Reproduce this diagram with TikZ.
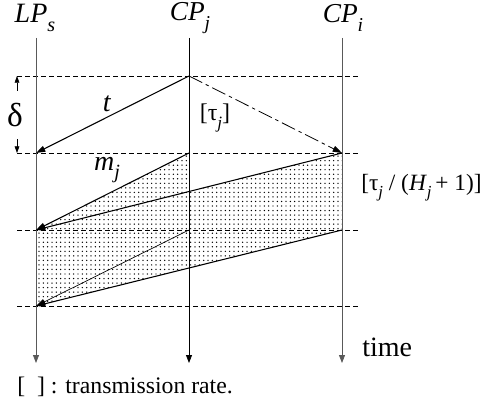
\documentclass[tikz,border=0pt]{standalone}
\usepackage{fontspec}
\setmainfont{Liberation Serif}
\usetikzlibrary{arrows.meta,patterns}
\pgfdeclarepatternformonly{refdots}{\pgfqpoint{-1pt}{-1pt}}{\pgfqpoint{1pt}{1pt}}{\pgfqpoint{3.25pt}{3.4pt}}{%
  \pgfpathcircle{\pgfqpoint{0pt}{0pt}}{0.55pt}\pgfusepath{fill}}
\newcommand{\sbs}[1]{\raisebox{-0.3em}{\scalebox{0.72}{\textit{#1}}}}
\begin{document}
\begin{tikzpicture}[x=0.75pt,y=-0.75pt,
  lbl/.style={font=\fontsize{20}{22}\selectfont, inner sep=0pt},
  tl/.style={line width=0.6pt,-{Triangle[length=6pt,width=4.5pt]}},
  hdash/.style={line width=0.5pt,dash pattern=on 3.5pt off 2.5pt},
  msg/.style={line width=0.8pt,-{Triangle[length=7pt,width=4.5pt]}},
  thinmsg/.style={line width=0.5pt,-{Triangle[length=7pt,width=4.5pt]}}]
\useasboundingbox (0,0) rectangle (484,410);
% coordinates
\foreach \n/\x in {L/36,J/189,I/342}{
  \coordinate (\n0) at (\x,38);
  \coordinate (\n1) at (\x,76);
  \coordinate (\n2) at (\x,153);
  \coordinate (\n3) at (\x,230);
  \coordinate (\n4) at (\x,306);
  \coordinate (\n5) at (\x,363);
}
\coordinate (mid) at (189,191.5);
% shading
\fill[pattern=refdots,pattern color=black] (L3) -- (J2) -- (mid) -- (I2) -- (I3) -- (L4) -- cycle;
% horizontal dashed lines
\foreach \y in {76,153,230,306}{
  \draw[hdash] (17,\y) -- (358,\y);
}
% vertical time lines
\draw[tl,black!65] (L0) -- (L5);
\draw[tl] (J0) -- (J5);
\draw[tl,black!65] (I0) -- (I5);
% messages
\draw[msg] (J1) -- (L2);
\draw[msg,line width=0.6pt,dash pattern=on 11pt off 3pt on 2.5pt off 3pt] (J1) -- (I2);
\draw[msg] (J2) -- (L3);
\draw[msg] (I2) -- (L3);
\draw[thinmsg] (J3) -- (L4);
\draw[msg] (I3) -- (L4);
% delta
\coordinate (d1) at (17,76);
\coordinate (d2) at (17,153);
\draw[line width=0.5pt,{Triangle[length=5pt,width=3.5pt]}-] (d1) -- (17,91);
\draw[line width=0.5pt,-{Triangle[length=5pt,width=3.5pt]}] (17,139) -- (d2);
\node[lbl,font=\fontsize{25}{27}\selectfont] (delta) at (15,115) {δ};
% labels
\node[lbl,font=\fontsize{21}{24}\selectfont] (lps) at (35,18) {\textit{LP}\sbs{s}};
\node[lbl,font=\fontsize{20.5}{24}\selectfont] (cpj) at (190,18) {\textit{CP}\sbs{j}};
\node[lbl,font=\fontsize{20.5}{24}\selectfont] (cpi) at (343,18) {\textit{CP}\sbs{i}};
\node[lbl,font=\fontsize{21}{24}\selectfont] (t) at (107,104) {\textit{t}};
\node[lbl,font=\fontsize{18}{22}\selectfont] (tauj) at (215,118) {[τ\sbs{j}]};
\node[lbl,font=\fontsize{21}{24}\selectfont] (mj) at (107,170) {\textit{m}\sbs{j}};
\node[lbl,font=\fontsize{17.5}{20}\selectfont,anchor=west] (rate) at (361,188) {[τ\sbs{j} / (\textit{H}\sbs{j}\,+ 1)]};
\node[lbl,font=\fontsize{21}{24}\selectfont,anchor=west] (time) at (362,347) {time};
\node[lbl,font=\fontsize{17.8}{20}\selectfont,anchor=west] (note) at (17,387) {[\enspace] : transmission rate.};
\end{tikzpicture}
\end{document}
